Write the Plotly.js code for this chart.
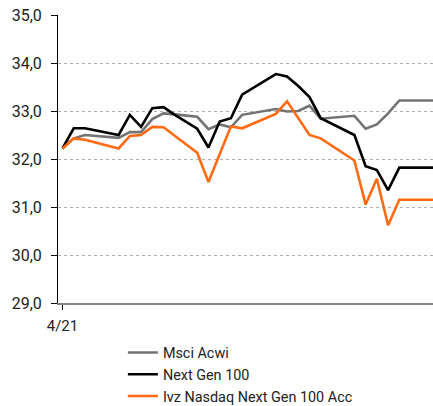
<!DOCTYPE html>
<html>
<head>
<meta charset="utf-8">
<script src="https://cdn.plot.ly/plotly-3.0.1.min.js"></script>
<style>html,body{margin:0;padding:0;background:#fff;}#chart{width:433px;height:406px;}</style>
</head>
<body>
<div id="chart"></div>
<script>
// x positions are weekly observation indices starting at 4/21
const xIndex = [0, 1, 2, 5, 6, 7, 8, 9, 10, 12, 13, 14, 15, 16, 19, 20, 21, 22, 23, 26, 27, 28, 29, 30, 33];
const msciAcwi = [32.22, 32.43, 32.50, 32.44, 32.56, 32.56, 32.83, 32.95, 32.93, 32.88, 32.62, 32.72, 32.66, 32.92, 33.04, 32.99, 33.00, 33.11, 32.84, 32.90, 32.63, 32.72, 32.95, 33.22, 33.22];
const nextGen100 = [32.22, 32.64, 32.64, 32.50, 32.92, 32.67, 33.06, 33.08, 32.92, 32.63, 32.24, 32.78, 32.85, 33.34, 33.77, 33.72, 33.52, 33.29, 32.85, 32.50, 31.85, 31.77, 31.35, 31.82, 31.82];
const ivzXIndex = [0, 1, 2, 5, 6, 7, 8, 9, 12, 13, 15, 16, 19, 20, 22, 23, 26, 27, 28, 29, 30, 33];
const ivzNasdaq = [32.22, 32.43, 32.40, 32.22, 32.48, 32.50, 32.67, 32.66, 32.13, 31.52, 32.68, 32.64, 32.94, 33.20, 32.50, 32.43, 31.97, 31.05, 31.59, 30.62, 31.15, 31.15];
const seriesNames = ["Msci Acwi", "Next Gen 100", "Ivz Nasdaq Next Gen 100 Acc"];
const yTickVals = [29, 30, 31, 32, 33, 34, 35];
const yTickText = ["29,0", "30,0", "31,0", "32,0", "33,0", "34,0", "35,0"];
const xTickVals = [0];
const xTickText = ["4/21"];

const traces = [
  {x: xIndex, y: msciAcwi, name: seriesNames[0], type: "scatter", mode: "lines", line: {color: "#737373", width: 2.6}},
  {x: xIndex, y: nextGen100, name: seriesNames[1], type: "scatter", mode: "lines", line: {color: "#000000", width: 2.6}},
  {x: ivzXIndex, y: ivzNasdaq, name: seriesNames[2], type: "scatter", mode: "lines", line: {color: "#ff6a13", width: 2.6}}
];

const layout = {
  width: 433, height: 406,
  margin: {l: 58, r: 0, t: 15, b: 103, autoexpand: false},
  paper_bgcolor: "#fff", plot_bgcolor: "#fff",
  font: {family: "Roboto, 'Liberation Sans', sans-serif", size: 15, color: "#222"},
  showlegend: true,
  legend: {x: 0.173, xanchor: "left", y: -0.117, yanchor: "top", orientation: "v",
           font: {size: 14.4, color: "#222"}, tracegroupgap: 0, bgcolor: "rgba(0,0,0,0)"},
  xaxis: {range: [-0.4, 33], tickvals: xTickVals, ticktext: xTickText, ticks: "outside", ticklen: 5,
          tickcolor: "#000", showgrid: false, zeroline: false, showline: true, linecolor: "#858585",
          linewidth: 2, tickfont: {size: 15, color: "#222"}, ticklabelstandoff: 3, fixedrange: true, automargin: false},
  yaxis: {range: [29, 35], tickvals: yTickVals, ticktext: yTickText, ticks: "outside", ticklen: 6,
          tickcolor: "#000", showgrid: true, gridcolor: "#b0b0b0", griddash: "dot", gridwidth: 1,
          zeroline: false, showline: true, linecolor: "#000", linewidth: 1,
          tickfont: {size: 16, color: "#222"}, ticklabelstandoff: 6, fixedrange: true, automargin: false}
};

Plotly.newPlot("chart", traces, layout, {displayModeBar: false, staticPlot: true});
</script>
</body>
</html>
